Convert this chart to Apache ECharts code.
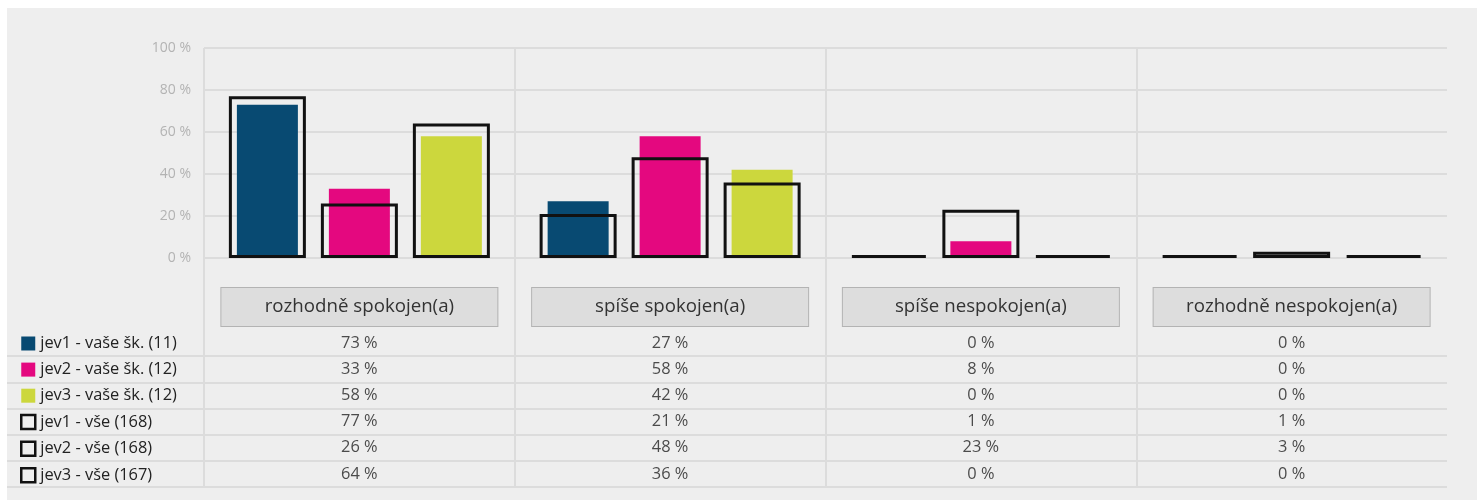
<!DOCTYPE html>
<html>
<head>
<meta charset="utf-8">
<script src="https://cdn.jsdelivr.net/npm/echarts@6/dist/echarts.min.js"></script>
<style>
html,body{margin:0;padding:0;background:#fff;}
#chart{position:absolute;left:7px;top:8px;width:1470px;height:492px;background:#eeeeee;}
</style>
</head>
<body>
<div id="chart"></div>
<script>
const categories = ['rozhodně spokojen(a)', 'spíše spokojen(a)', 'spíše nespokojen(a)', 'rozhodně nespokojen(a)'];
const seriesNames = ['jev1 - vaše šk. (11)', 'jev2 - vaše šk. (12)', 'jev3 - vaše šk. (12)', 'jev1 - vše (168)', 'jev2 - vše (168)', 'jev3 - vše (167)'];
const jev1Skola = [73, 27, 0, 0];
const jev2Skola = [33, 58, 8, 0];
const jev3Skola = [58, 42, 0, 0];
const jev1Vse = [77, 21, 1, 1];
const jev2Vse = [26, 48, 23, 3];
const jev3Vse = [64, 36, 0, 0];
const yTickValues = [0, 20, 40, 60, 80, 100];

const seriesValues = [jev1Skola, jev2Skola, jev3Skola, jev1Vse, jev2Vse, jev3Vse];
const fillColors = ['#084a72', '#e4087f', '#ccd73d'];
const gridLine = {show: true, lineStyle: {color: '#dcdcdc', width: 2}};
const FONT = '"Open Sans", "Noto Sans", sans-serif';

const chart = echarts.init(document.getElementById('chart'), null, {renderer: 'canvas'});

const series = [];
for (let i = 0; i < 3; i++) {
  series.push({
    name: seriesNames[i], type: 'bar', xAxisIndex: 0, yAxisIndex: 0,
    data: seriesValues[i], barWidth: 61, barGap: '50.8%',
    itemStyle: {color: fillColors[i]}, silent: true
  });
}
for (let i = 3; i < 6; i++) {
  series.push({
    name: seriesNames[i], type: 'bar', xAxisIndex: 1, yAxisIndex: 1,
    data: seriesValues[i], barWidth: 77, barGap: '19.48%', barMinHeight: 3,
    itemStyle: {color: 'rgba(0,0,0,0)', borderColor: '#111', borderWidth: 3},
    z: 5, silent: true
  });
}
// table values
const tableData = [];
seriesValues.forEach((vals, r) => vals.forEach((v, c) => tableData.push([c + 0.5, r, v])));
series.push({
  type: 'scatter', xAxisIndex: 3, yAxisIndex: 3, symbolSize: 0, silent: true,
  data: tableData,
  label: {show: true, position: 'inside', formatter: p => p.value[2] + ' %',
    color: '#222', fontSize: 16.4, fontFamily: FONT}
});

const legendData = seriesNames.map((n, i) => i < 3 ? {name: n} :
  {name: n, itemStyle: {color: 'rgba(0,0,0,0)', borderColor: '#111', borderWidth: 2.5}});

chart.setOption({
  animation: false,
  textStyle: {fontFamily: FONT},
  grid: [
    {left: 197, right: 30, top: 40, height: 210},
    {left: 197, right: 30, top: 40, height: 210},
    {left: 197, right: 30, top: 250, height: 229},
    {left: 0, right: 30, top: 322, height: 157}
  ],
  legend: {
    orient: 'vertical', left: 13, top: 327.5, padding: 0, itemWidth: 14, itemHeight: 14, itemGap: 10.1,
    icon: 'rect', data: legendData, selectedMode: false,
    textStyle: {fontSize: 16.4, color: '#222', fontFamily: FONT}
  },
  xAxis: [
    {gridIndex: 0, type: 'category', data: categories,
      axisLine: {show: false}, axisTick: {show: false},
      splitLine: Object.assign({showMaxLine: false}, gridLine),
      axisLabel: {interval: 0, margin: 30, color: '#333', fontSize: 18.7, fontFamily: FONT,
        backgroundColor: '#dddddd', borderColor: '#b3b3b3', borderWidth: 1,
        width: 276, height: 38, lineHeight: 38, align: 'center', verticalAlign: 'top'}},
    {gridIndex: 1, type: 'category', data: categories, show: false},
    {gridIndex: 2, type: 'category', data: categories,
      axisLine: {show: false}, axisTick: {show: false}, axisLabel: {show: false},
      splitLine: Object.assign({showMaxLine: false}, gridLine)},
    {gridIndex: 3, type: 'value', min: -0.634, max: 4, show: false}
  ],
  yAxis: [
    {gridIndex: 0, type: 'value', min: 0, max: 100, interval: 20,
      axisLine: {show: false}, axisTick: {show: false},
      splitLine: gridLine,
      axisLabel: {margin: 13, color: '#b3b3b3', fontSize: 14, fontFamily: FONT,
        formatter: v => yTickValues.indexOf(v) >= 0 ? v + ' %' : ''}},
    {gridIndex: 1, type: 'value', min: 0, max: 100, show: false},
    {gridIndex: 2, type: 'value', show: false},
    {gridIndex: 3, type: 'category', data: seriesNames, inverse: true,
      axisLine: {show: false}, axisTick: {show: false}, axisLabel: {show: false},
      splitLine: Object.assign({showMinLine: false}, gridLine)}
  ],
  series: series
});
</script>
</body>
</html>
